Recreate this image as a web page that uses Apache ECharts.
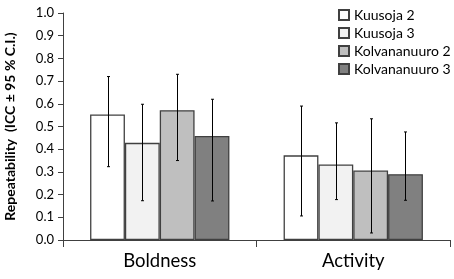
<!DOCTYPE html>
<html>
<head>
<meta charset="utf-8">
<script src="https://cdn.jsdelivr.net/npm/echarts@6/dist/echarts.min.js"></script>
<style>
  html, body { margin: 0; padding: 0; background: #fff; }
  #chart { width: 454px; height: 279px; }
</style>
</head>
<body>
<div id="chart"></div>
<script>
var categories = ['Boldness', 'Activity'];
var seriesNames = ['Kuusoja 2', 'Kuusoja 3', 'Kolvananuuro 2', 'Kolvananuuro 3'];
var colors = ['#ffffff', '#f2f2f2', '#bfbfbf', '#808080'];

// ICC per population, [Boldness, Activity]
var kuusoja2 = [0.553, 0.373];
var kuusoja3 = [0.428, 0.333];
var kolva2 = [0.572, 0.306];
var kolva3 = [0.458, 0.290];

// 95% C.I. low / high
var kuusoja2Lo = [0.323, 0.106], kuusoja2Hi = [0.720, 0.590];
var kuusoja3Lo = [0.173, 0.178], kuusoja3Hi = [0.598, 0.516];
var kolva2Lo = [0.350, 0.031], kolva2Hi = [0.730, 0.534];
var kolva3Lo = [0.172, 0.175], kolva3Hi = [0.620, 0.476];

var values = [kuusoja2, kuusoja3, kolva2, kolva3];
var lows = [kuusoja2Lo, kuusoja3Lo, kolva2Lo, kolva3Lo];
var highs = [kuusoja2Hi, kuusoja3Hi, kolva2Hi, kolva3Hi];

var catGap = 0.28;

var errData = [];
for (var s = 0; s < 4; s++) {
	for (var c = 0; c < categories.length; c++) {
		errData.push([c, s, lows[s][c], highs[s][c]]);
	}
}

var font = 'Lato, "Open Sans", sans-serif';

var series = seriesNames.map(function(name, i){
	return {
		name: name,
		type: 'bar',
		data: values[i],
		barGap: '0%',
		barCategoryGap: (catGap * 100) + '%',
		itemStyle: {
			color: colors[i],
			borderColor: '#404040',
			borderWidth: 1.3
		}
	};
});

series.push({
	type: 'custom',
	name: 'ci',
	data: errData,
	z: 10,
	silent: true,
	renderItem: function(params, api){
		var c = api.value(0), s = api.value(1);
		var center = api.coord([c, 0]);
		var band = api.size([1, 0])[0];
		var group = band * (1 - catGap);
		var bw = group / 4;
		var x = Math.round(center[0] - group / 2 + bw * (s + 0.5)) + 0.5;
		var lo = api.coord([c, api.value(2)])[1];
		var hi = api.coord([c, api.value(3)])[1];
		var st = { stroke: '#000', lineWidth: 1 };
		return {
			type: 'group',
			children: [
				{ type: 'line', shape: { x1: x, y1: lo, x2: x, y2: hi }, style: st },
				{ type: 'line', shape: { x1: x - 1.5, y1: lo, x2: x + 1.5, y2: lo }, style: st },
				{ type: 'line', shape: { x1: x - 1.5, y1: hi, x2: x + 1.5, y2: hi }, style: st }
			]
		};
	}
});

var chart = echarts.init(document.getElementById('chart'));
chart.setOption({
	animation: false,
	textStyle: { fontFamily: font },
	legend: {
		orient: 'vertical',
		left: 333,
		top: 3,
		itemWidth: 10,
		itemHeight: 10,
		itemGap: 4,
		icon: 'rect',
		data: seriesNames,
		textStyle: { fontSize: 14, color: '#000', fontFamily: font }
	},
	grid: { left: 63, right: 4, top: 13, bottom: 39, containLabel: false, outerBoundsMode: 'none' },
	xAxis: {
		type: 'category',
		data: categories,
		axisLine: { lineStyle: { color: '#404040', width: 1 } },
		axisTick: { show: true, length: 7, lineStyle: { color: '#404040' } },
		axisLabel: { fontSize: 18.5, color: '#000', margin: 12, fontFamily: font }
	},
	yAxis: {
		type: 'value',
		min: 0,
		max: 1,
		interval: 0.1,
		name: 'Repeatability  (ICC ± 95 % C.I.)',
		nameLocation: 'middle',
		nameGap: 46,
		nameTextStyle: { fontSize: 14, fontWeight: 'bold', color: '#000', fontFamily: font },
		axisLine: { show: true, lineStyle: { color: '#404040', width: 1 } },
		axisTick: { show: true, length: 5, lineStyle: { color: '#404040' } },
		splitLine: { show: false },
		axisLabel: {
			fontSize: 13, color: '#000', margin: 9, fontFamily: font,
			formatter: function(v){ return v.toFixed(1); }
		}
	},
	series: series
});
</script>
</body>
</html>
